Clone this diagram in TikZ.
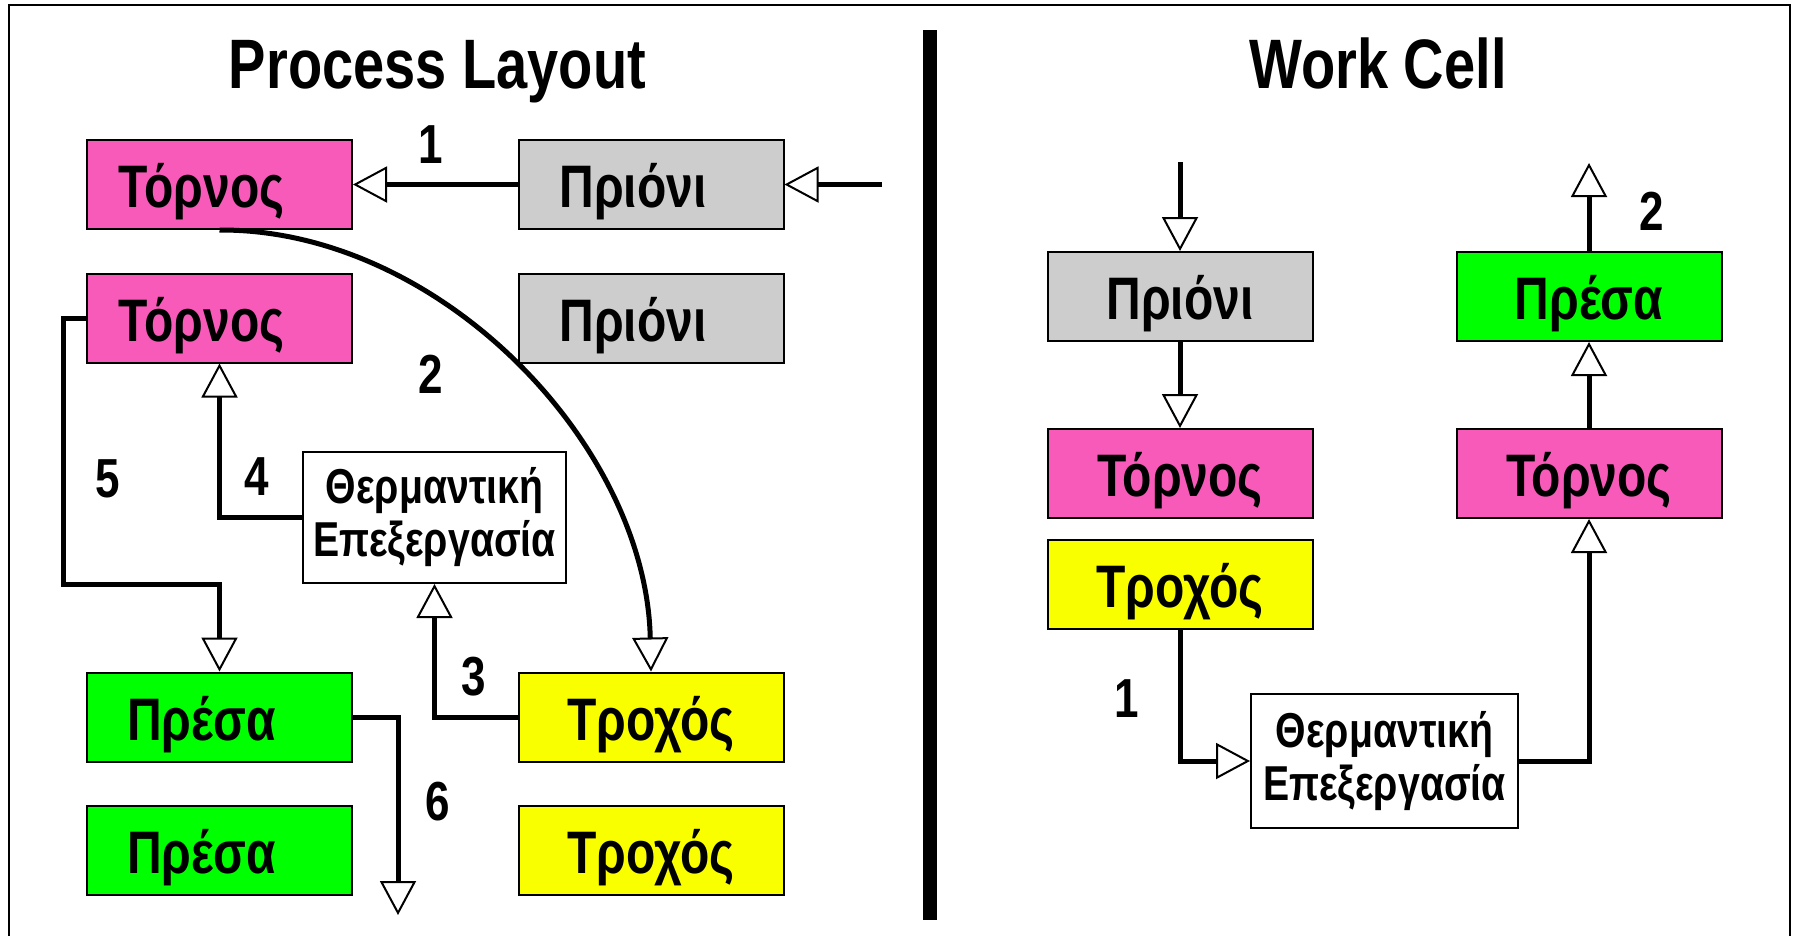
\documentclass[tikz,border=0pt]{standalone}
\usepackage{fontspec}
\setmainfont{Liberation Sans}[FakeStretch=0.8]
\usetikzlibrary{arrows.meta}

\definecolor{lathecol}{RGB}{248,90,185}
\definecolor{sawcol}{RGB}{205,205,205}
\definecolor{presscol}{RGB}{0,255,0}
\definecolor{grindcol}{RGB}{250,255,0}

\newcommand\ttfont{\fontsize{70}{80}\selectfont\bfseries}
\newcommand\bxfont{\fontsize{60}{70}\selectfont\bfseries}
\newcommand\htfont{\fontsize{49}{53}\selectfont\bfseries}
\newcommand\nmfont{\fontsize{55}{60}\selectfont\bfseries}

\begin{document}
\begin{tikzpicture}[x=1pt,y=-1pt,
  mach/.style={draw=black, line width=2pt, minimum width=265pt, minimum height=89pt,
    inner sep=0pt, text height=46pt, text depth=0pt, font=\bxfont},
  lathe/.style={mach, fill=lathecol},
  saw/.style={mach, fill=sawcol},
  press/.style={mach, fill=presscol},
  grinder/.style={mach, fill=grindcol},
  leftpad/.style={execute at begin node={\hspace*{-36pt}}},
  heat/.style={draw=black, line width=2pt, fill=white, inner sep=0pt, align=center,
    minimum width=265pt, minimum height=132pt, font=\htfont},
  conn/.style={line width=5pt, -{Triangle[length=34pt,width=36pt,fill=white,line width=2pt]}},
  num/.style={anchor=base, font=\nmfont, inner sep=0pt},
  ttl/.style={anchor=base, font=\ttfont, inner sep=0pt}
]
\useasboundingbox (0,0) rectangle (1795,935);

% frame and divider
\draw[line width=2pt] (9,940) -- (9,5) -- (1790,5) -- (1790,940);
\draw[line width=14pt] (930,30) -- (930,920);

% titles
\node[ttl] (t1) at (437.5,88) {Process Layout};
\node[ttl] (t2) at (1378,88) {Work Cell};

% ---- process layout ----
\node[lathe,leftpad] (T1) at (219.5,184.5) {Τόρνος};
\node[saw,leftpad]   (P1) at (651,184.5)   {Πριόνι};
\node[lathe,leftpad] (T2) at (219.5,318)   {Τόρνος};
\node[saw,leftpad]   (P2) at (651,318)     {Πριόνι};
\node[heat, minimum width=263pt, minimum height=131pt] (HL) at (434.5,517.5) {Θερμαντική\\Επεξεργασία};
\node[press,leftpad] (S1) at (219.5,717)   {Πρέσα};
\node[grinder]       (G1) at (651,717)     {Τροχός};
\node[press,leftpad] (S2) at (219.5,850)   {Πρέσα};
\node[grinder]       (G2) at (651,850)     {Τροχός};

\coordinate (inL) at (882,184.5);
\coordinate (c5) at (63,584);
\coordinate (out6) at (398,915);

\draw[conn] (inL) -- (P1.east);
\draw[conn] (P1.west) -- (T1.east);
\draw[conn] (T1.south) .. controls (440,229) and (646,445) .. (G1.north);
\draw[conn] (G1.west) -| (HL.south);
\draw[conn] (HL.west) -| (T2.south);
\draw[conn] (T2.west) -| (c5) -| (S1.north);
\draw[conn] (S1.east) -| (out6);

\node[num] (n1) at (430.5,163) {1};
\node[num] (n2) at (431,393) {2};
\node[num] (n3) at (473.5,695) {3};
\node[num] (n4) at (257,495) {4};
\node[num] (n5) at (107.5,497) {5};
\node[num] (n6) at (437.5,820) {6};

% ---- work cell ----
\node[saw]     (PR)  at (1180,296.5) {Πριόνι};
\node[press]   (SR)  at (1589,296.5) {Πρέσα};
\node[lathe]   (TRa) at (1180,473.5) {Τόρνος};
\node[lathe]   (TRb) at (1589,473.5) {Τόρνος};
\node[grinder] (GR)  at (1180,584)   {Τροχός};
\node[heat, minimum width=267pt, minimum height=134pt] (HR) at (1384.5,761) {Θερμαντική\\Επεξεργασία};

\coordinate (inR) at (1180,162);
\coordinate (outR) at (1589,163);

\draw[conn] (inR) -- (PR.north);
\draw[conn] (PR.south) -- (TRa.north);
\draw[conn] (GR.south) |- (HR.west);
\draw[conn] (HR.east) -| (TRb.south);
\draw[conn] (TRb.north) -- (SR.south);
\draw[conn] (SR.north) -- (outR);

\node[num] (m1) at (1127,717) {1};
\node[num] (m2) at (1652,230) {2};
\end{tikzpicture}
\end{document}
